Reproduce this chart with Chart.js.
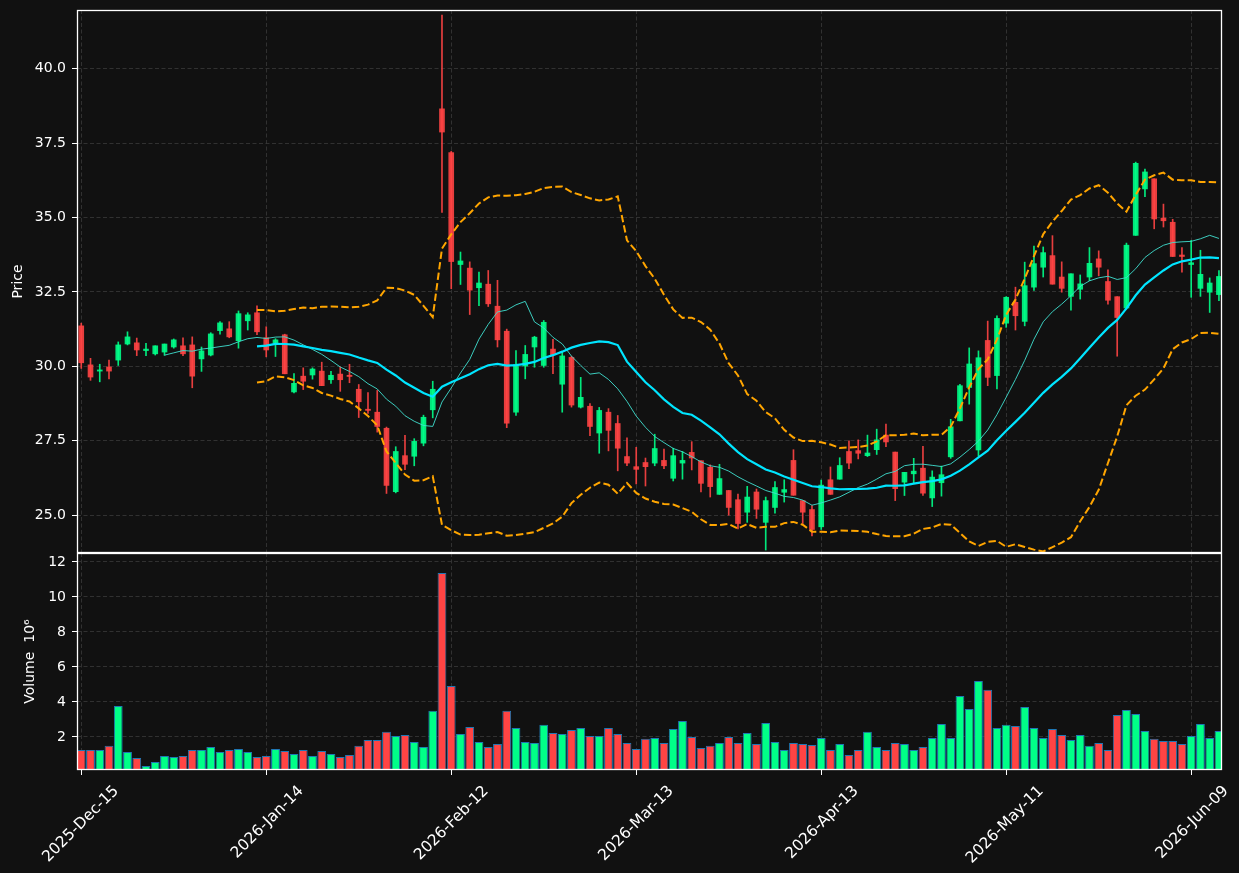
<!DOCTYPE html>
<html>
<head>
<meta charset="utf-8">
<script src="https://cdn.jsdelivr.net/npm/chart.js@4.4.1/dist/chart.umd.min.js"></script>
<style>
  html, body { margin: 0; padding: 0; background: #111111; }
  #wrap { position: relative; width: 1239px; height: 873px; }
  canvas { position: absolute; left: 0; top: 0; }
</style>
</head>
<body>
<div id="wrap">
  <canvas id="priceChart" width="1239" height="873"></canvas>
  <canvas id="volumeChart" width="1239" height="873"></canvas>
</div>
<script>
// OHLC, one entry per trading day (index 0 = 2025-Dec-15)
const opens = [
  31.36, 30.05, 29.84, 29.98, 30.21, 30.75, 30.79, 30.53, 30.42, 30.48,
  30.65, 30.69, 30.72, 30.25, 30.38, 31.20, 31.26, 30.86, 31.53, 31.80,
  30.96, 30.78, 31.06, 29.14, 29.67, 29.71, 29.84, 29.55, 29.74, 29.70,
  29.23, 28.56, 28.46, 27.92, 25.79, 27.00, 26.98, 27.42, 28.54, 38.65,
  37.18, 33.42, 33.30, 32.64, 32.76, 32.02, 31.18, 28.46, 30.01, 30.65,
  30.03, 30.58, 29.40, 30.30, 28.63, 28.66, 27.76, 28.46, 28.08, 26.97,
  26.63, 26.77, 26.75, 26.84, 26.24, 26.75, 27.11, 26.83, 26.61, 25.70,
  25.83, 25.52, 25.10, 25.78, 24.76, 25.26, 25.77, 26.84, 25.49, 25.19,
  24.61, 26.19, 26.21, 27.14, 27.17, 27.00, 27.20, 27.69, 27.12, 26.11,
  26.39, 26.58, 25.58, 26.09, 26.96, 28.17, 29.29, 27.19, 30.87, 29.69,
  31.45, 32.15, 31.51, 32.66, 33.33, 33.72, 33.00, 32.35, 32.59, 33.00,
  33.61, 32.85, 32.34, 31.96, 34.40, 35.96, 36.30, 34.98, 34.84, 33.74,
  33.42, 32.62, 32.49, 32.41
];
const highs = [
  31.45, 30.27, 30.07, 30.21, 30.82, 31.16, 30.95, 30.77, 30.69, 30.75,
  30.92, 30.96, 30.99, 30.65, 31.13, 31.50, 31.50, 31.86, 31.80, 32.03,
  31.33, 30.93, 31.08, 29.76, 29.95, 29.95, 30.14, 29.83, 29.98, 30.07,
  29.39, 29.12, 29.19, 27.96, 27.30, 27.68, 27.57, 28.36, 29.50, 41.80,
  37.22, 33.84, 33.51, 33.17, 33.22, 32.89, 31.25, 30.53, 30.70, 31.01,
  31.54, 30.91, 30.47, 30.34, 29.63, 28.75, 28.62, 28.58, 28.35, 27.60,
  27.28, 26.92, 27.72, 27.22, 27.25, 27.14, 27.47, 26.83, 26.69, 26.71,
  25.83, 25.71, 25.97, 25.88, 25.61, 26.13, 26.19, 27.20, 25.49, 25.32,
  26.18, 26.62, 26.93, 27.50, 27.53, 27.69, 27.89, 28.06, 27.12, 26.44,
  26.91, 27.31, 26.49, 26.65, 28.22, 29.40, 30.62, 30.52, 31.52, 31.70,
  32.34, 32.66, 33.50, 34.04, 34.01, 34.39, 33.51, 33.11, 33.07, 33.99,
  33.88, 33.24, 32.34, 34.14, 36.86, 36.63, 36.30, 35.45, 34.94, 33.99,
  34.23, 33.90, 32.97, 33.22
];
const lows = [
  29.93, 29.53, 29.48, 29.58, 30.03, 30.72, 30.36, 30.36, 30.38, 30.37,
  30.61, 30.36, 29.28, 29.83, 30.35, 31.08, 30.96, 30.61, 31.22, 31.06,
  30.32, 30.33, 29.75, 29.11, 29.22, 29.57, 29.35, 29.43, 29.16, 29.45,
  28.28, 28.42, 27.79, 25.73, 25.75, 26.53, 26.66, 27.33, 28.27, 35.17,
  32.61, 32.75, 31.74, 32.04, 32.01, 30.65, 27.94, 28.35, 29.58, 29.97,
  29.97, 29.75, 28.46, 28.63, 28.60, 27.67, 27.08, 27.16, 26.49, 26.66,
  26.05, 25.98, 26.66, 26.56, 26.15, 26.21, 26.52, 25.78, 25.61, 25.70,
  25.00, 24.54, 24.76, 24.89, 23.83, 25.07, 25.44, 25.67, 24.72, 24.30,
  24.52, 25.70, 26.21, 26.56, 26.89, 26.97, 27.04, 27.30, 25.49, 25.66,
  26.09, 25.66, 25.29, 25.64, 26.91, 28.17, 28.73, 26.99, 29.35, 29.24,
  31.31, 31.22, 31.36, 32.55, 33.00, 32.76, 32.49, 31.89, 32.26, 32.88,
  33.04, 32.09, 30.34, 31.93, 34.40, 35.70, 34.62, 34.68, 33.69, 33.16,
  32.32, 32.35, 31.81, 32.21
];
const closes = [
  30.12, 29.64, 29.88, 29.84, 30.72, 30.99, 30.55, 30.58, 30.69, 30.75,
  30.89, 30.42, 29.67, 30.52, 31.09, 31.46, 30.99, 31.77, 31.73, 31.16,
  30.55, 30.89, 29.75, 29.43, 29.50, 29.91, 29.35, 29.70, 29.55, 29.66,
  28.81, 28.52, 27.98, 26.00, 27.14, 26.71, 27.48, 28.29, 29.23, 37.87,
  33.52, 33.54, 32.56, 32.80, 32.10, 30.89, 28.09, 30.06, 30.40, 30.98,
  31.48, 30.39, 30.35, 28.70, 28.96, 27.98, 28.52, 27.85, 27.25, 26.75,
  26.54, 26.63, 27.24, 26.66, 27.00, 26.84, 26.92, 26.07, 25.96, 26.23,
  25.26, 24.72, 25.61, 25.20, 25.49, 25.93, 25.86, 25.67, 25.10, 24.52,
  26.01, 25.70, 26.67, 26.75, 27.08, 27.09, 27.53, 27.46, 25.89, 26.44,
  26.48, 25.74, 26.28, 26.36, 27.97, 29.35, 30.08, 30.29, 29.63, 31.61,
  32.32, 31.70, 32.71, 33.45, 33.82, 32.76, 32.62, 33.11, 32.77, 33.46,
  33.33, 32.22, 31.64, 34.07, 36.82, 36.53, 34.95, 34.89, 33.69, 33.69,
  33.48, 33.09, 32.80, 33.02
];
// volume in millions
const volumes = [
  1.26, 1.26, 1.26, 1.49, 3.77, 1.14, 0.80, 0.34, 0.57, 0.91,
  0.86, 0.91, 1.26, 1.26, 1.43, 1.14, 1.26, 1.31, 1.14, 0.86,
  0.91, 1.31, 1.20, 1.03, 1.26, 0.91, 1.20, 1.03, 0.86, 0.97,
  1.49, 1.83, 1.83, 2.29, 2.06, 2.11, 1.71, 1.43, 3.49, 11.37,
  4.91, 2.17, 2.57, 1.71, 1.43, 1.60, 3.49, 2.51, 1.71, 1.66,
  2.69, 2.23, 2.17, 2.40, 2.51, 2.06, 2.06, 2.51, 2.17, 1.66,
  1.31, 1.89, 1.94, 1.66, 2.46, 2.91, 2.00, 1.37, 1.49, 1.66,
  2.00, 1.66, 2.23, 1.60, 2.80, 1.71, 1.26, 1.66, 1.60, 1.54,
  1.94, 1.26, 1.60, 0.97, 1.26, 2.29, 1.43, 1.26, 1.66, 1.60,
  1.26, 1.43, 1.94, 2.74, 1.94, 4.34, 3.60, 5.20, 4.69, 2.51,
  2.69, 2.63, 3.71, 2.51, 1.94, 2.46, 2.11, 1.83, 2.11, 1.49,
  1.66, 1.26, 3.26, 3.54, 3.31, 2.34, 1.89, 1.77, 1.77, 1.60,
  2.06, 2.74, 1.94, 2.34
];

// x tick positions (bar index) and their date labels
const tickIdx = [0, 20, 40, 60, 80, 100, 120];
const tickLabels = ['2025-Dec-15', '2026-Jan-14', '2026-Feb-12', '2026-Mar-13',
                    '2026-Apr-13', '2026-May-11', '2026-Jun-09'];
const priceTicks = [25.0, 27.5, 30.0, 32.5, 35.0, 37.5, 40.0];
const volumeTicks = [2, 4, 6, 8, 10, 12];

// indicator settings (mav 10 / 20, bollinger 20, 2 sigma)
const MA_FAST = 10, MA_SLOW = 20, BB_LEN = 20, BB_K = 2;

function movingAverage(src, len) {
    return src.map((_, i) => {
        if (i < len - 1) return null;
        let s = 0;
        for (let k = i - len + 1; k <= i; k++) s += src[k];
        return s / len;
    });
}

function bollinger(src, len, mult) {
    const mid = movingAverage(src, len);
    const upper = [], lower = [];
    src.forEach((_, i) => {
        if (mid[i] === null) { upper.push(null); lower.push(null); return; }
        let v = 0;
        for (let k = i - len + 1; k <= i; k++) v += (src[k] - mid[i]) ** 2;
        const sd = Math.sqrt(v / len);
        upper.push(mid[i] + mult * sd);
        lower.push(mid[i] - mult * sd);
    });
    return { upper, lower };
}

const idx = closes.map((_, i) => i);
const maFast = movingAverage(closes, MA_FAST);
const maSlow = movingAverage(closes, MA_SLOW);
const bb = bollinger(closes, BB_LEN, BB_K);

const UP = 'rgba(0,255,136,0.9)';
const DOWN = 'rgba(255,68,68,0.9)';
const candleColors = idx.map(i => closes[i] >= opens[i] ? UP : DOWN);
const volumeColors = idx.map(i => closes[i] >= opens[i] ? '#00ff88' : '#ff4444');

const GRID = '#3a3a3a';
const DASH = [4, 2.5];
const FONT = { family: 'DejaVu Sans', size: 14 };
const X_MIN = -0.46, X_MAX = 123.33;

// white frame around each panel
const spines = {
    id: 'spines',
    afterDraw(chart) {
        const { ctx, chartArea: a } = chart;
        const l = Math.round(a.left) + 0.5, t = Math.round(a.top) + 0.5;
        const r = Math.round(a.right) - 0.5, b = Math.round(a.bottom) - 0.5;
        ctx.save();
        ctx.strokeStyle = '#ffffff';
        ctx.lineWidth = 1.3;
        ctx.strokeRect(l, t, r - l, b - t);
        ctx.restore();
    }
};

function lineSet(values, color, width, order, dash) {
    return {
        type: 'line',
        data: idx.map(i => ({ x: i, y: values[i] })),
        borderColor: color,
        borderWidth: width,
        borderDash: dash || [],
        pointRadius: 0,
        tension: 0,
        spanGaps: false,
        order: order
    };
}

function noPad(s) { s.paddingTop = 0; s.paddingBottom = 0; }

// Price panel
new Chart(document.getElementById('priceChart').getContext('2d'), {
    type: 'bar',
    data: {
        datasets: [
            {
                data: idx.map(i => ({ x: i, y: [lows[i], highs[i]] })),
                backgroundColor: candleColors,
                barThickness: 1,
                grouped: false,
                order: 6
            },
            {
                data: idx.map(i => ({ x: i, y: [opens[i], closes[i]] })),
                backgroundColor: candleColors,
                barThickness: 5,
                minBarLength: 1,
                grouped: false,
                order: 5
            },
            lineSet(bb.upper, '#ffa500', 2, 3, [7.4, 3.2]),
            lineSet(bb.lower, '#ffa500', 2, 3, [7.4, 3.2]),
            lineSet(maFast, 'rgba(64,224,208,0.9)', 1, 2),
            lineSet(maSlow, '#00e5ff', 2.2, 1)
        ]
    },
    options: {
        responsive: false,
        animation: false,
        devicePixelRatio: 1,
        layout: { padding: { left: 0, top: 10, right: 17, bottom: 320 } },
        plugins: { legend: { display: false }, tooltip: { enabled: false } },
        scales: {
            x: {
                type: 'linear', min: X_MIN, max: X_MAX, offset: false,
                afterBuildTicks: s => { s.ticks = tickIdx.map(v => ({ value: v })); },
                afterFit: s => { s.height = 0; s.paddingLeft = 0; s.paddingRight = 0; },
                ticks: { display: false },
                grid: { color: GRID, lineWidth: 0.8, drawTicks: false, offset: false },
                border: { display: false, dash: DASH }
            },
            y: {
                min: 23.73, max: 41.97,
                afterBuildTicks: s => { s.ticks = priceTicks.map(v => ({ value: v })); },
                afterFit: s => { s.width = 77; noPad(s); },
                ticks: { color: '#ffffff', font: FONT, padding: 6, callback: v => v.toFixed(1) },
                grid: { color: GRID, lineWidth: 0.8, tickColor: '#ffffff', tickLength: 5, tickWidth: 1 },
                border: { display: false, dash: DASH },
                title: { display: true, text: 'Price', color: '#ffffff', font: FONT, padding: { top: 10, bottom: 0 } }
            }
        }
    },
    plugins: [spines]
});

// Volume panel
new Chart(document.getElementById('volumeChart').getContext('2d'), {
    type: 'bar',
    data: {
        datasets: [{
            data: idx.map(i => ({ x: i, y: volumes[i] })),
            backgroundColor: volumeColors,
            borderColor: '#1f77b4',
            borderWidth: 1,
            barPercentage: 0.95,
            categoryPercentage: 1
        }]
    },
    options: {
        responsive: false,
        animation: false,
        devicePixelRatio: 1,
        layout: { padding: { left: 0, top: 553, right: 17, bottom: 0 } },
        plugins: { legend: { display: false }, tooltip: { enabled: false } },
        scales: {
            x: {
                type: 'linear', min: X_MIN, max: X_MAX, offset: false,
                afterBuildTicks: s => { s.ticks = tickIdx.map(v => ({ value: v })); },
                afterFit: s => { s.height = 103; s.paddingLeft = 0; s.paddingRight = 0; },
                ticks: {
                    color: '#ffffff', font: { family: 'DejaVu Sans', size: 15.5 }, autoSkip: false,
                    minRotation: 45, maxRotation: 45, labelOffset: 35, padding: 7,
                    callback: v => tickLabels[tickIdx.indexOf(v)]
                },
                grid: { color: GRID, lineWidth: 0.8, tickColor: '#ffffff', tickLength: 5, tickWidth: 1, offset: false },
                border: { display: false, dash: DASH }
            },
            y: {
                min: 0.11, max: 12.51,
                afterBuildTicks: s => { s.ticks = volumeTicks.map(v => ({ value: v })); },
                afterFit: s => { s.width = 77; noPad(s); },
                ticks: { color: '#ffffff', font: FONT, padding: 6 },
                grid: { color: GRID, lineWidth: 0.8, tickColor: '#ffffff', tickLength: 5, tickWidth: 1 },
                border: { display: false, dash: DASH },
                title: { display: true, text: 'Volume  10⁶', color: '#ffffff', font: FONT, padding: { top: 22, bottom: 0 } }
            }
        }
    },
    plugins: [spines]
});
</script>
</body>
</html>
